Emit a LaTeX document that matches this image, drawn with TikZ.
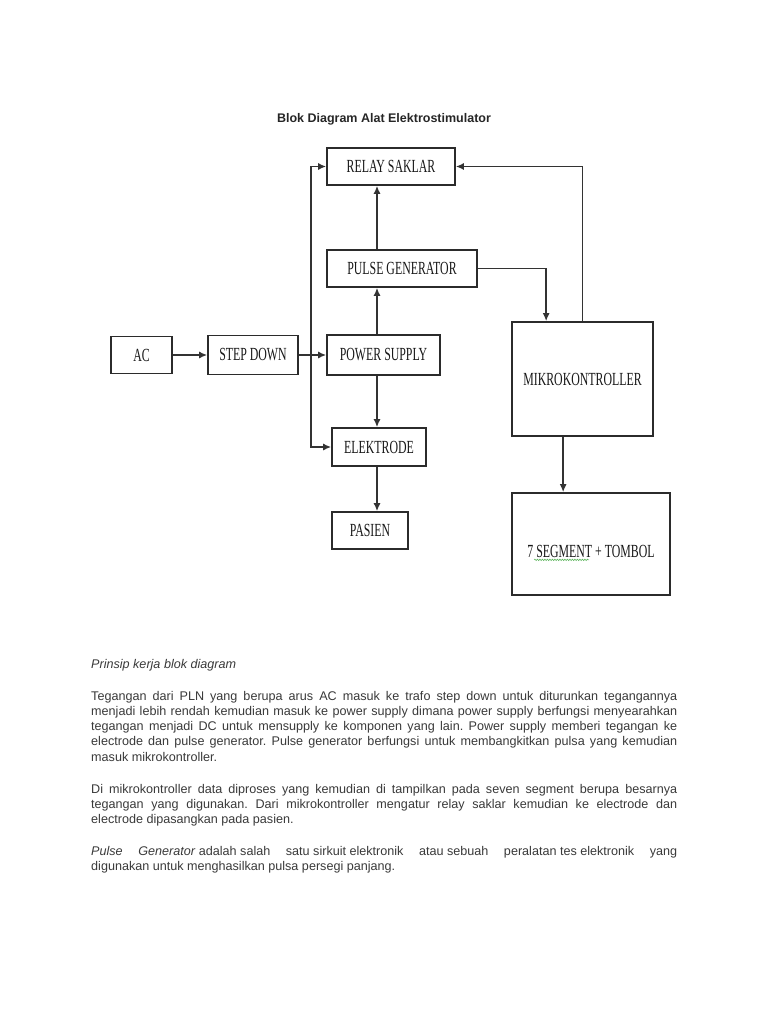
\documentclass[tikz,border=0pt]{standalone}
\usepackage{fontspec}
\setmainfont{Liberation Sans}
\newfontfamily\blockfont[FakeStretch=0.64]{Liberation Serif}
\usetikzlibrary{arrows.meta,positioning,calc,decorations.pathmorphing}
\definecolor{BoxLine}{HTML}{2B2B2B}
\definecolor{Wire}{HTML}{333333}
\definecolor{BodyInk}{HTML}{3A3A3A}
\definecolor{Spell}{HTML}{5FB85F}
\tikzset{
  block/.style={draw=BoxLine,line width=1.7pt,minimum height=37pt,inner sep=0pt,font=\blockfont\fontsize{18.5}{20}\selectfont,text=black!90},
  arrow/.style={-{Latex[length=8pt,width=7pt]},line width=1.4pt,draw=Wire},
  bodytext/.style={text width=586pt,align=justify,inner sep=0pt,font=\fontsize{12.6}{15.2}\selectfont,text=BodyInk},
  titletext/.style={font=\bfseries\fontsize{12.5}{14}\selectfont,text=black!85}
}

\begin{document}
\begin{tikzpicture}[x=1pt,y=-1pt]
  \useasboundingbox[fill=white] (0,0) rectangle (768,1024);
  \node[titletext,anchor=base] (title) at (384,123) {Blok Diagram Alat Elektrostimulator};

  % blocks
  \node[block,minimum width=128pt] (relay) at (391,166.5) {RELAY SAKLAR};
  \node[block,minimum width=150pt] (pulse) at (402,268.5) {PULSE GENERATOR};
  \node[block,minimum width=61pt] (ac) at (141.5,355) {AC};
  \node[block,minimum width=90pt,minimum height=39pt] (stepdown) at (253,355) {STEP DOWN};
  \node[block,minimum width=113pt,minimum height=40pt] (power) at (383.5,355) {POWER SUPPLY};
  \node[block,minimum width=94pt,minimum height=38pt] (elektrode) at (379,447) {ELEKTRODE};
  \node[block,minimum width=76pt] (pasien) at (370,530.5) {PASIEN};
  \node[block,minimum width=141pt,minimum height=114pt] (mikro) at (582.5,379) {MIKROKONTROLLER};
  \node[block,minimum width=158pt,minimum height=102pt,text height=26pt,text depth=0pt] (segment) at (591,544) {7 SEGMENT + TOMBOL};
  \draw[Spell,line width=0.6pt,decorate,decoration={snake,amplitude=0.7pt,segment length=2.5pt}]
    ([xshift=23pt,yshift=36pt]segment.south west) -- ([xshift=78pt,yshift=36pt]segment.south west);

  % connectors
  \coordinate (split) at (311,355);
  \coordinate (spine) at (377,0);
  \draw[arrow] (ac) -- (stepdown);
  \draw[arrow] (stepdown) -- (power);
  \draw[arrow] (split) |- (relay.west);
  \draw[arrow] (split) |- (elektrode.west);
  \draw[arrow] (power.north -| spine) -- (pulse.south -| spine);
  \draw[arrow] (pulse.north -| spine) -- (relay.south -| spine);
  \draw[arrow] (power.south -| spine) -- (elektrode.north -| spine);
  \draw[arrow] (elektrode.south -| spine) -- (pasien.north -| spine);
  \draw[arrow] (pulse.east) -| ([xshift=35pt]mikro.north west);
  \draw[arrow] (mikro.north) |- (relay.east);
  \draw[arrow] ([xshift=52pt]mikro.south west) -- ([xshift=52pt]mikro.south west |- segment.north);

  % text below the diagram
  \node[bodytext,anchor=north west] (body) at (91,659) {%
    \setlength{\parindent}{0pt}\setlength{\parskip}{16.8pt}\tolerance=10000\hyphenpenalty=10000\frenchspacing
    \textit{Prinsip kerja blok diagram}\par
    Tegangan dari PLN yang berupa arus AC masuk ke trafo step down untuk diturunkan tegangannya\linebreak
    menjadi lebih rendah kemudian masuk ke power supply dimana power supply berfungsi menyearahkan\linebreak
    tegangan menjadi DC untuk mensupply ke komponen yang lain. Power supply memberi tegangan ke\linebreak
    electrode dan pulse generator. Pulse generator berfungsi untuk membangkitkan pulsa yang kemudian\linebreak
    masuk mikrokontroller.\par
    Di mikrokontroller data diproses yang kemudian di tampilkan pada seven segment berupa besarnya\linebreak
    tegangan yang digunakan. Dari mikrokontroller mengatur relay saklar kemudian ke electrode dan\linebreak
    electrode dipasangkan pada pasien.\par
    \textit{Pulse}\hfill\textit{Generator} adalah salah\hfill satu sirkuit elektronik\hfill atau sebuah\hfill peralatan tes elektronik\hfill yang\linebreak
    digunakan untuk menghasilkan pulsa persegi panjang.};
\end{tikzpicture}
\end{document}
